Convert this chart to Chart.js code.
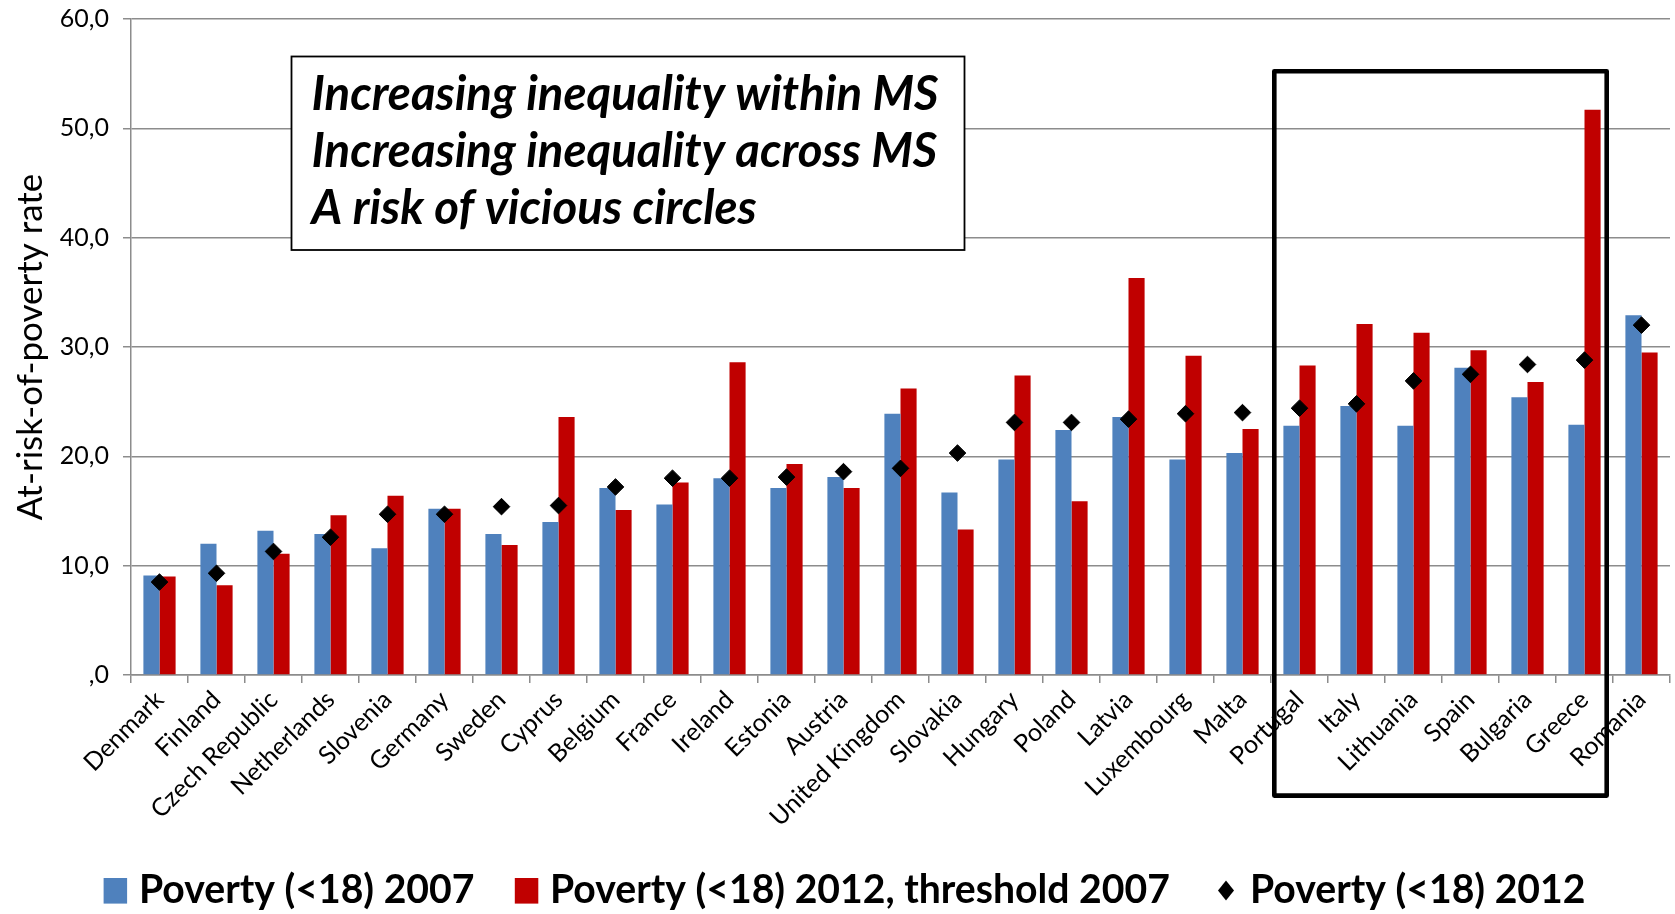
<!DOCTYPE html>
<html>
<head>
<meta charset="utf-8">
<title>At-risk-of-poverty rate for children</title>
<script src="https://cdn.jsdelivr.net/npm/chart.js@4.4.1/dist/chart.umd.min.js"></script>
<style>
  html, body { margin: 0; padding: 0; background: #ffffff; }
  #wrap { width: 1675px; height: 914px; }
</style>
</head>
<body>
<div id="wrap"><canvas id="c" width="1675" height="914"></canvas></div>
<script>
// Countries, ordered by child poverty rate in 2012
const countries = [
  'Denmark', 'Finland', 'Czech Republic', 'Netherlands', 'Slovenia', 'Germany',
  'Sweden', 'Cyprus', 'Belgium', 'France', 'Ireland', 'Estonia', 'Austria',
  'United Kingdom', 'Slovakia', 'Hungary', 'Poland', 'Latvia', 'Luxembourg',
  'Malta', 'Portugal', 'Italy', 'Lithuania', 'Spain', 'Bulgaria', 'Greece', 'Romania'
];

// Poverty (<18) 2007
const poverty2007 = [
  9.1, 12.0, 13.2, 12.9, 11.6, 15.2, 12.9, 14.0, 17.1, 15.6, 18.0, 17.1, 18.1,
  23.9, 16.7, 19.7, 22.4, 23.6, 19.7, 20.3, 22.8, 24.6, 22.8, 28.1, 25.4, 22.9, 32.9
];

// Poverty (<18) 2012, measured against the 2007 threshold
const poverty2012Threshold2007 = [
  9.0, 8.2, 11.1, 14.6, 16.4, 15.2, 11.9, 23.6, 15.1, 17.6, 28.6, 19.3, 17.1,
  26.2, 13.3, 27.4, 15.9, 36.3, 29.2, 22.5, 28.3, 32.1, 31.3, 29.7, 26.8, 51.7, 29.5
];

// Poverty (<18) 2012
const poverty2012 = [
  8.5, 9.3, 11.3, 12.6, 14.7, 14.7, 15.4, 15.5, 17.2, 18.0, 18.0, 18.1, 18.6,
  18.9, 20.3, 23.1, 23.1, 23.4, 23.9, 24.0, 24.4, 24.8, 26.9, 27.5, 28.4, 28.8, 32.0
];

const yTickLabels = [',0', '10,0', '20,0', '30,0', '40,0', '50,0', '60,0'];

const seriesNames = [
  'Poverty (<18) 2007',
  'Poverty (<18) 2012, threshold 2007',
  'Poverty (<18) 2012'
];

const calloutLines = [
  'Increasing inequality within MS',
  'Increasing inequality across MS',
  'A risk of vicious circles'
];

// First and last country of the framed group
const framedGroup = ['Portugal', 'Greece'];

const BLUE = '#4f81bd';
const RED = '#c00000';
const GRID = '#8c8c8c';
const FONT = "Lato, 'Open Sans', 'Liberation Sans', sans-serif";

// Fit a font size so that a text spans a given width
function fitSize(ctx, style, text, width) {
  ctx.font = style + ' 100px ' + FONT;
  return 100 * width / ctx.measureText(text).width;
}

// Framed group of countries, the callout box and the legend
const overlayPlugin = {
  id: 'overlay',
  afterDraw(chart) {
    const ctx = chart.ctx;
    const x = chart.scales.x;
    const half = (x.getPixelForValue(1) - x.getPixelForValue(0)) / 2;

    // Callout box
    ctx.save();
    ctx.fillStyle = '#ffffff';
    ctx.fillRect(291.5, 56.5, 673, 193.5);
    ctx.lineWidth = 1.8;
    ctx.strokeStyle = '#000000';
    ctx.strokeRect(291.5, 56.5, 673, 193.5);
    const size = fitSize(ctx, 'italic bold', calloutLines[0], 627);
    ctx.font = 'italic bold ' + size.toFixed(2) + 'px ' + FONT;
    ctx.fillStyle = '#000000';
    ctx.textBaseline = 'alphabetic';
    ctx.textAlign = 'left';
    calloutLines.forEach((line, i) => ctx.fillText(line, 311.5, 110 + i * 57));
    ctx.restore();

    // Frame around the group of countries
    const i0 = countries.indexOf(framedGroup[0]);
    const i1 = countries.indexOf(framedGroup[1]);
    const left = x.getPixelForValue(i0) - half + 3.3;
    const right = x.getPixelForValue(i1) + half - 6.3;
    ctx.save();
    ctx.lineWidth = 4.6;
    ctx.strokeStyle = '#000000';
    ctx.lineJoin = 'round';
    ctx.strokeRect(left, 71.3, right - left, 795.6 - 71.3);
    ctx.restore();

    // Legend
    ctx.save();
    const lsize = fitSize(ctx, 'bold', seriesNames[1], 620);
    ctx.font = 'bold ' + lsize.toFixed(2) + 'px ' + FONT;
    ctx.textBaseline = 'alphabetic';
    ctx.textAlign = 'left';
    ctx.fillStyle = BLUE;
    ctx.fillRect(103.6, 878, 23.5, 25.6);
    ctx.fillStyle = RED;
    ctx.fillRect(514.8, 878, 23.5, 25.6);
    ctx.fillStyle = '#000000';
    ctx.beginPath();
    ctx.moveTo(1226, 880.5);
    ctx.lineTo(1234, 890.5);
    ctx.lineTo(1226, 900.5);
    ctx.lineTo(1218, 890.5);
    ctx.closePath();
    ctx.fill();
    ctx.fillText(seriesNames[0], 139, 903);
    ctx.fillText(seriesNames[1], 550, 903);
    ctx.fillText(seriesNames[2], 1250, 903);
    ctx.restore();
  }
};

new Chart(document.getElementById('c'), {
  data: {
    labels: countries,
    datasets: [
      {
        type: 'bar',
        label: seriesNames[0],
        data: poverty2007,
        backgroundColor: BLUE,
        borderWidth: 0,
        barPercentage: 1.0,
        categoryPercentage: 0.565,
        order: 1
      },
      {
        type: 'bar',
        label: seriesNames[1],
        data: poverty2012Threshold2007,
        backgroundColor: RED,
        borderWidth: 0,
        barPercentage: 1.0,
        categoryPercentage: 0.565,
        order: 1
      },
      {
        type: 'line',
        label: seriesNames[2],
        data: poverty2012,
        showLine: false,
        pointStyle: 'rectRot',
        pointRadius: 8.3,
        pointBackgroundColor: '#000000',
        pointBorderColor: '#000000',
        pointBorderWidth: 1,
        clip: false,
        order: 0
      }
    ]
  },
  options: {
    responsive: false,
    animation: false,
    events: [],
    layout: { autoPadding: false, padding: { left: 0, right: 5, top: 19, bottom: 0 } },
    plugins: {
      legend: { display: false },
      tooltip: { enabled: false }
    },
    scales: {
      x: {
        offset: true,
        grid: {
          display: true,
          offset: true,
          drawOnChartArea: false,
          drawTicks: true,
          tickLength: 8,
          color: GRID,
          lineWidth: 1.5
        },
        border: { display: true, color: GRID, width: 1.5 },
        ticks: {
          autoSkip: false,
          minRotation: 45,
          maxRotation: 45,
          padding: 2,
          color: '#000000',
          font: { family: FONT, size: 25 }
        },
        afterFit(scale) {
          scale.height = 914 - 675;
          scale.paddingLeft = 0;
          scale.paddingRight = 0;
        }
      },
      y: {
        min: 0,
        max: 60,
        grid: { color: GRID, lineWidth: 1.5, tickLength: 8 },
        border: { display: true, color: GRID, width: 1.5 },
        ticks: {
          stepSize: 10,
          padding: 14,
          color: '#000000',
          font: { family: FONT, size: 25 },
          callback: (value, index) => yTickLabels[index]
        },
        title: {
          display: true,
          text: 'At-risk-of-poverty rate',
          color: '#000000',
          font: { family: FONT, size: 35 },
          padding: { top: 10, bottom: 0 }
        },
        afterFit(scale) {
          scale.width = 131;
          scale.paddingTop = 0;
          scale.paddingBottom = 0;
        }
      }
    }
  },
  plugins: [overlayPlugin]
});
</script>
</body>
</html>
